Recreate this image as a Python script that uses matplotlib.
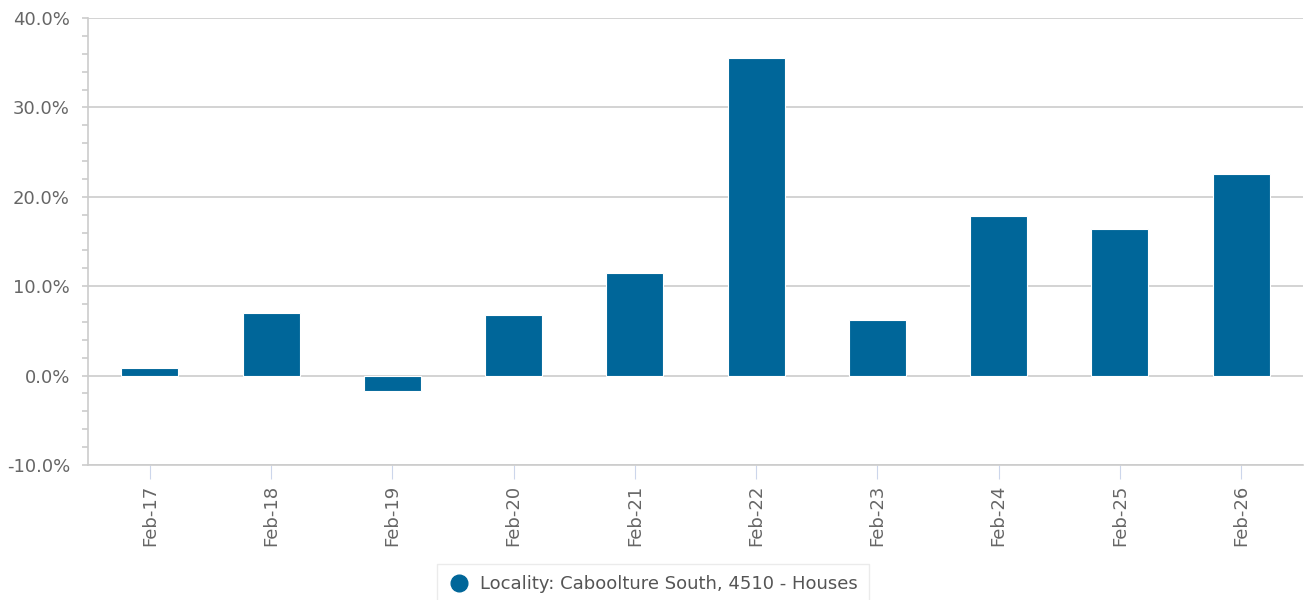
import numpy as np
import matplotlib.pyplot as plt
from matplotlib.ticker import MultipleLocator, FuncFormatter

plt.rcParams['font.family'] = ['DejaVu Sans']

labels = ["Feb-17", "Feb-18", "Feb-19", "Feb-20", "Feb-21",
          "Feb-22", "Feb-23", "Feb-24", "Feb-25", "Feb-26"]
growth = [0.8, 7.0, -1.7, 6.8, 11.5, 35.5, 6.2, 17.9, 16.4, 22.6]
series_name = "Locality: Caboolture South, 4510 - Houses"

bar_color = "#006699"
grid_color = "#cccccc"
text_color = "#666666"


def plot():
    fig = plt.figure(figsize=(13.06, 6.0), dpi=100)
    ax = fig.add_axes([88 / 1306, 1 - 465 / 600, (1303 - 88) / 1306, (465 - 18) / 600])

    x = np.arange(len(labels))
    ax.bar(x, growth, width=0.47, color=bar_color, edgecolor="white",
           linewidth=0.8, zorder=3, label=series_name)

    ax.set_xlim(-0.51, len(labels) - 0.49)
    ax.set_ylim(-10, 40)
    ax.yaxis.set_major_locator(MultipleLocator(10))
    ax.yaxis.set_minor_locator(MultipleLocator(2))
    ax.yaxis.set_major_formatter(FuncFormatter(lambda v, p: "{:.1f}%".format(v)))
    ax.grid(axis="y", which="major", color=grid_color, linewidth=1.2, zorder=0)

    ax.set_xticks(x)
    ax.set_xticklabels(labels, rotation=90)

    for s in ["top", "right"]:
        ax.spines[s].set_visible(False)
    ax.spines["left"].set_color(grid_color)
    ax.spines["bottom"].set_color(grid_color)
    ax.spines["left"].set_linewidth(1.2)
    ax.spines["bottom"].set_linewidth(1.2)

    ax.tick_params(axis="y", which="major", length=4, width=1.2, color=grid_color,
                   labelcolor=text_color, labelsize=13, pad=9)
    ax.tick_params(axis="y", which="minor", length=4, width=1.2, color=grid_color)
    ax.tick_params(axis="x", length=10, color="#ccd6eb", labelcolor=text_color,
                   labelsize=13, pad=4)

    leg = fig.legend(handles=[plt.Line2D([], [], marker="o", linestyle="",
                                         markersize=12, color=bar_color)],
                     labels=[series_name], loc="upper center",
                     bbox_to_anchor=(0.5, 1 - 555 / 600), frameon=True, fontsize=13,
                     labelcolor="#555555", handletextpad=0.6, borderpad=0.6,
                     handlelength=1.2, fancybox=False)
    leg.get_frame().set_edgecolor("#e6e6e6")
    leg.get_frame().set_linewidth(1)

    fig.savefig("out.png", dpi=100)


if __name__ == '__main__':
    plot()
